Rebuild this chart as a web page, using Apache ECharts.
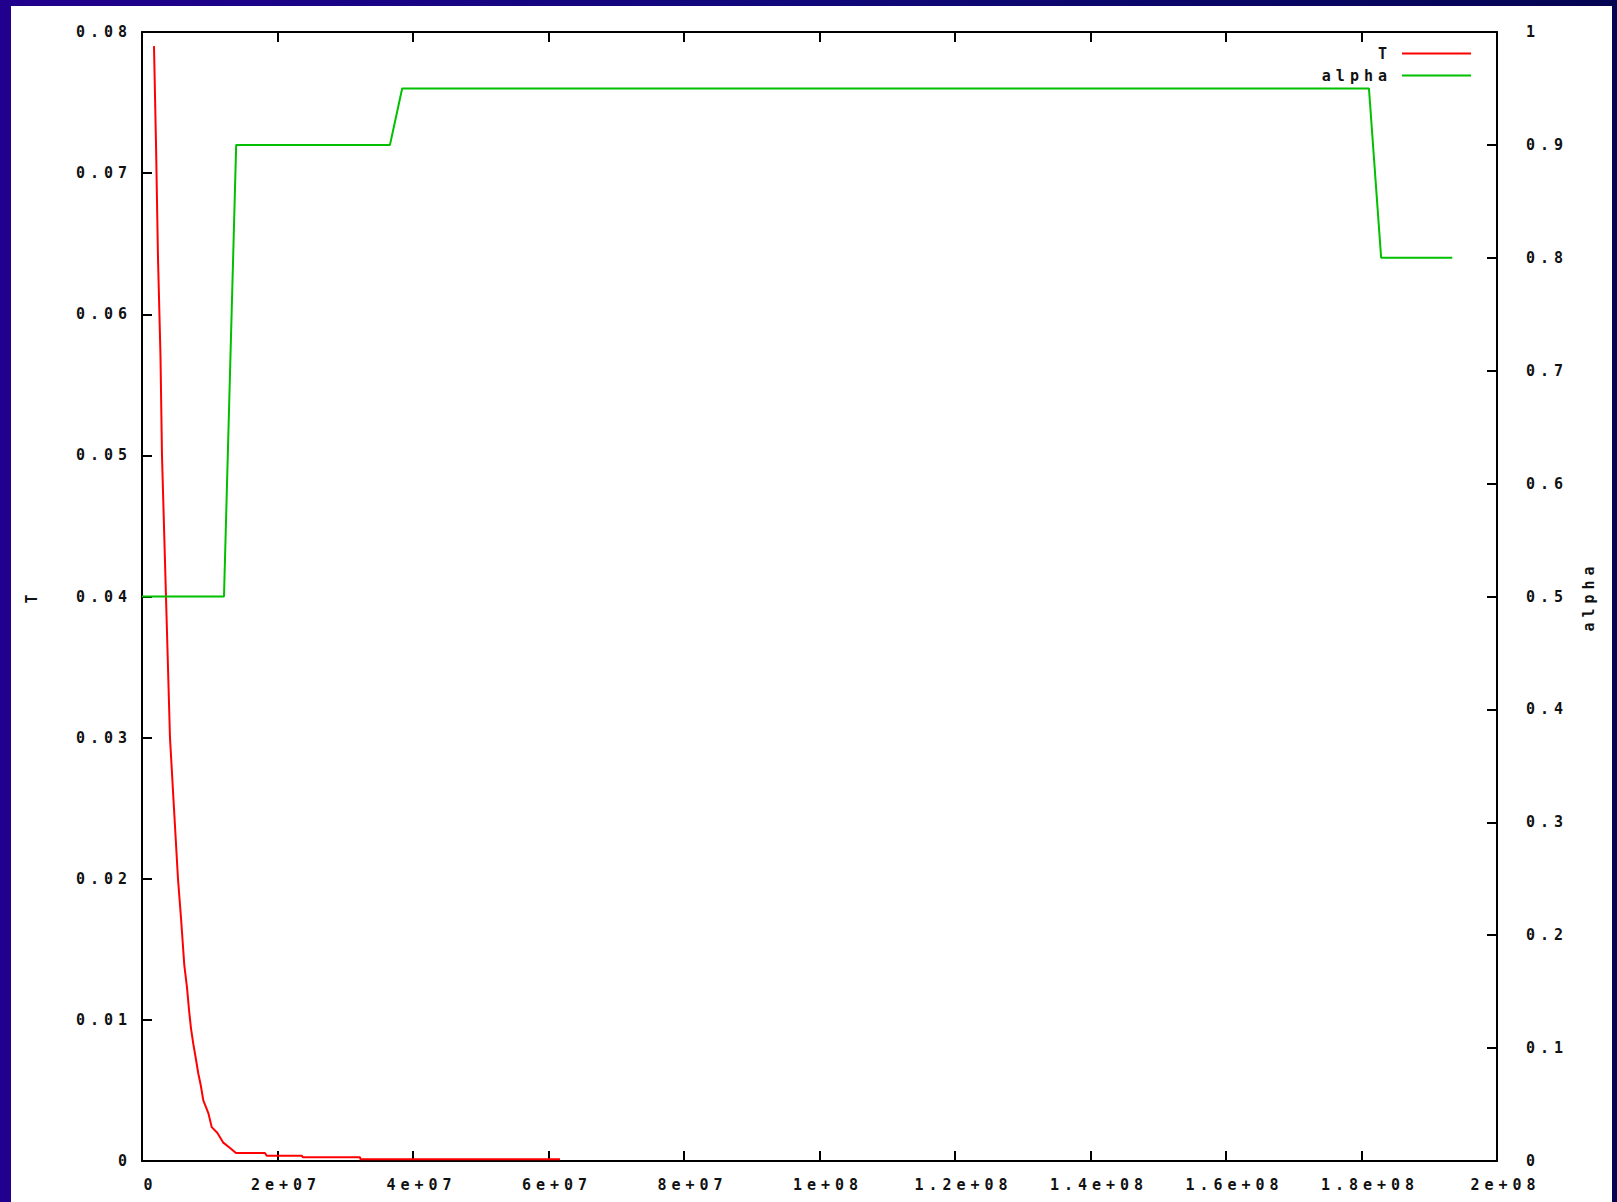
<!DOCTYPE html>
<html>
<head>
<meta charset="utf-8">
<script src="https://cdn.jsdelivr.net/npm/echarts@6/dist/echarts.min.js"></script>
<style>
  html, body { margin: 0; padding: 0; }
  body {
    width: 1617px; height: 1202px; overflow: hidden; position: relative;
    background: linear-gradient(to right, #21008e 0%, #10087a 50%, #040452 100%);
  }
  #chart {
    position: absolute; left: 11px; top: 6px; width: 1601px; height: 1196px;
    background: #fff;
  }
  /* wide-set terminal lettering */
  #chart svg text { letter-spacing: 5px; }
</style>
</head>
<body>
<div id="chart"></div>
<script>
// Annealing run: temperature T and acceptance factor alpha against step count
const tSteps = [1.77e6, 2.07e6, 2.36e6, 2.73e6, 2.95e6, 3.54e6, 4.13e6, 4.72e6, 5.31e6, 5.76e6,
  6.24e6, 6.64e6, 6.94e6, 7.23e6, 7.57e6, 7.93e6, 8.31e6, 8.66e6, 9.05e6, 9.79e6,
  1.029e7, 1.111e7, 1.20e7, 1.299e7, 1.387e7, 1.815e7, 1.84e7, 2.357e7, 2.376e7, 3.218e7,
  3.225e7, 6.17e7];
const tValues = [0.0790, 0.0720, 0.0640, 0.0570, 0.0500, 0.0400, 0.0300, 0.0250, 0.0200, 0.0172,
  0.0139, 0.0123, 0.0107, 0.0094, 0.0083, 0.0073, 0.0062, 0.0054, 0.0043, 0.0034,
  0.0024, 0.0020, 0.0013, 0.00092, 0.00057, 0.00057, 0.00038, 0.00038, 0.00026, 0.00026,
  0.00012, 0.00012];

const alphaSteps = [0, 1.21e7, 1.39e7, 3.66e7, 3.84e7, 1.811e8, 1.829e8, 1.934e8];
const alphaValues = [0.5, 0.5, 0.9, 0.9, 0.95, 0.95, 0.8, 0.8];

const xTickLabels = ['0', '2e+07', '4e+07', '6e+07', '8e+07', '1e+08',
  '1.2e+08', '1.4e+08', '1.6e+08', '1.8e+08', '2e+08'];

const FONT = '"DejaVu Sans Mono", "Liberation Mono", monospace';
const txt = () => ({ fontFamily: FONT, fontSize: 15, fontWeight: 'bold', color: '#111' });
const axisLine = () => ({ show: true, onZero: false, lineStyle: { color: '#000', width: 2 } });
const tick = () => ({ show: true, inside: true, length: 10, lineStyle: { color: '#000', width: 2 } });

const chart = echarts.init(document.getElementById('chart'), null, { renderer: 'svg' });
chart.setOption({
  backgroundColor: '#fff',
  animation: false,
  grid: { left: 131, right: 115, top: 26, bottom: 41, containLabel: false },
  legend: {
    orient: 'vertical', right: 141, top: 40, align: 'right', padding: 0,
    itemWidth: 69, itemHeight: 2, itemGap: 7, icon: 'rect',
    textStyle: Object.assign(txt(), { lineHeight: 15, padding: [0, 5, 0, 0] }),
    data: ['T', 'alpha']
  },
  xAxis: [{
    type: 'value', min: 0, max: 2e8, interval: 2e7, position: 'bottom',
    axisLine: axisLine(), axisTick: tick(), splitLine: { show: false },
    axisLabel: Object.assign(txt(), {
      margin: 16, padding: [0, 0, 0, 17],
      formatter: v => xTickLabels[Math.round(v / 2e7)]
    })
  }, {
    type: 'value', min: 0, max: 2e8, interval: 2e7, position: 'top',
    axisLine: axisLine(), axisTick: tick(), splitLine: { show: false }, axisLabel: { show: false }
  }],
  yAxis: [{
    type: 'value', min: 0, max: 0.08, interval: 0.01, position: 'left',
    name: 'T', nameLocation: 'middle', nameGap: 103, nameRotate: 90,
    nameTextStyle: txt(),
    axisLine: axisLine(), axisTick: tick(), splitLine: { show: false },
    axisLabel: Object.assign(txt(), { margin: 10 })
  }, {
    type: 'value', min: 0, max: 1, interval: 0.1, position: 'right',
    name: 'alpha', nameLocation: 'middle', nameGap: 84, nameRotate: 90,
    nameTextStyle: txt(),
    axisLine: axisLine(), axisTick: tick(), splitLine: { show: false },
    axisLabel: Object.assign(txt(), { margin: 29 })
  }],
  series: [{
    name: 'T', type: 'line', xAxisIndex: 0, yAxisIndex: 0,
    showSymbol: false, color: '#ff0000',
    lineStyle: { width: 2, color: '#ff0000' },
    data: tSteps.map((x, i) => [x, tValues[i]])
  }, {
    name: 'alpha', type: 'line', xAxisIndex: 0, yAxisIndex: 1,
    showSymbol: false, color: '#00c000',
    lineStyle: { width: 2, color: '#00c000' },
    data: alphaSteps.map((x, i) => [x, alphaValues[i]])
  }]
});
</script>
</body>
</html>
